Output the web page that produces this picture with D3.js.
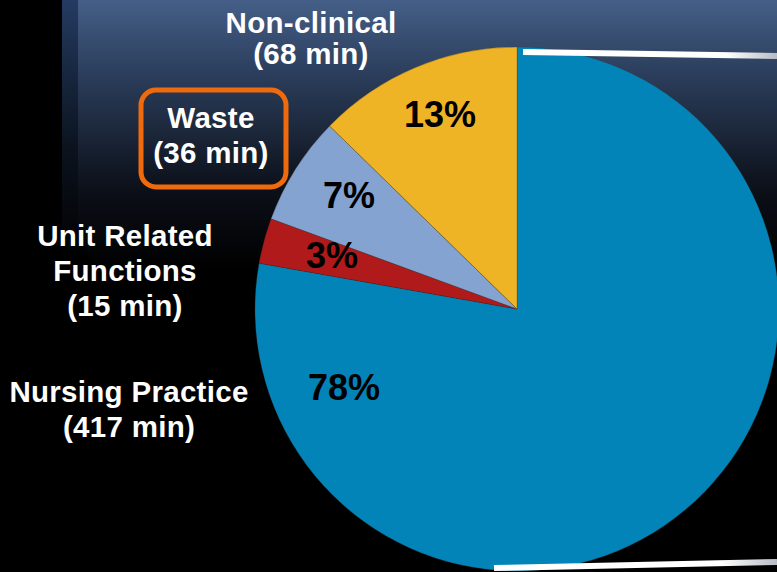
<!DOCTYPE html>
<html>
<head>
<meta charset="utf-8">
<script src="https://cdn.jsdelivr.net/npm/d3@7"></script>
<style>
  html, body { margin: 0; padding: 0; background: #000; }
  svg { display: block; }
  text { font-family: "Liberation Sans", Arial, sans-serif; font-weight: bold; }
</style>
</head>
<body>
<svg id="chart" width="777" height="572"></svg>
<script>
// ---- data ----
const categories = ["Nursing Practice", "Unit Related Functions", "Waste", "Non-clinical"];
const minutes = [417, 15, 36, 68];
const percentLabels = ["78%", "3%", "7%", "13%"];
const colors = ["#0284b8", "#b01a1a", "#84a3d1", "#efb426"];
const nameLines = [["Nursing Practice"], ["Unit Related", "Functions"], ["Waste"], ["Non-clinical"]];

const W = 777, H = 572;
const svg = d3.select("#chart");
const defs = svg.append("defs");

// background gradients
const g1 = defs.append("linearGradient").attr("id", "bgOuter").attr("x1", 0).attr("y1", 0).attr("x2", 0).attr("y2", 1);
g1.append("stop").attr("offset", "0%").attr("stop-color", "#243b61");
g1.append("stop").attr("offset", "55%").attr("stop-color", "#0c1420");
g1.append("stop").attr("offset", "100%").attr("stop-color", "#000");
const g2 = defs.append("linearGradient").attr("id", "bgInner").attr("x1", 0).attr("y1", 0).attr("x2", 0).attr("y2", 1);
g2.append("stop").attr("offset", "0%").attr("stop-color", "#52719f");
g2.append("stop").attr("offset", "35%").attr("stop-color", "#2d405f");
g2.append("stop").attr("offset", "75%").attr("stop-color", "#0b0f17");
g2.append("stop").attr("offset", "100%").attr("stop-color", "#000");
const lg = defs.append("linearGradient").attr("id", "lineGrad").attr("x1", 0).attr("y1", 0).attr("x2", 1).attr("y2", 0);
lg.append("stop").attr("offset", "0%").attr("stop-color", "#fff");
lg.append("stop").attr("offset", "80%").attr("stop-color", "#fff");
lg.append("stop").attr("offset", "100%").attr("stop-color", "#b8bcc4");

svg.append("rect").attr("x", 0).attr("y", 0).attr("width", W).attr("height", H).attr("fill", "#000");
svg.append("rect").attr("x", 62).attr("y", 0).attr("width", W - 62).attr("height", 260).attr("fill", "url(#bgOuter)");
svg.append("rect").attr("x", 78).attr("y", -40).attr("width", W - 78 + 40).attr("height", 310).attr("rx", 40).attr("fill", "url(#bgInner)");

// pie
const cx = 517, cy = 309, R = 262;
const pie = d3.pie().sort(null).value(d => d)(minutes);
const arc = d3.arc().innerRadius(0).outerRadius(R);
const pg = svg.append("g").attr("transform", `translate(${cx},${cy})`);
pg.selectAll("path").data(pie).join("path")
  .attr("d", arc)
  .attr("fill", (d, i) => colors[i])
  .attr("stroke", "rgba(60,50,30,0.45)")
  .attr("stroke-width", 0.6);

// callout lines
svg.append("line").attr("x1", 523).attr("y1", 52).attr("x2", 777).attr("y2", 56)
  .attr("stroke", "url(#lineGrad)").attr("stroke-width", 6);
svg.append("line").attr("x1", 494).attr("y1", 568).attr("x2", 777).attr("y2", 562)
  .attr("stroke", "url(#lineGrad)").attr("stroke-width", 6);

// percent labels (inside slices)
const pctPos = [[344, 400], [332, 268], [349, 208], [440, 127]];
svg.selectAll("text.pct").data(pie).join("text")
  .attr("class", "pct")
  .attr("x", (d, i) => pctPos[i][0])
  .attr("y", (d, i) => pctPos[i][1])
  .attr("text-anchor", "middle")
  .attr("font-size", 36)
  .attr("fill", "#000")
  .text((d, i) => percentLabels[i]);

// category labels
const namePos = [[129, 402], [125, 246], [211, 128], [311, 33]];
const lineH = 35;
categories.forEach((c, i) => {
  const lines = nameLines[i].concat([`(${minutes[i]} min)`]);
  const t = svg.append("text")
    .attr("x", namePos[i][0]).attr("y", namePos[i][1])
    .attr("text-anchor", "middle").attr("font-size", 29.5)
    .attr("letter-spacing", 0.3).attr("fill", "#fff");
  lines.forEach((l, k) => {
    t.append("tspan").attr("x", namePos[i][0]).attr("dy", k === 0 ? 0 : (i === 3 ? 31 : lineH)).text(l);
  });
});

// Waste highlight box
svg.append("rect").attr("x", 141).attr("y", 90).attr("width", 145).attr("height", 97)
  .attr("rx", 15).attr("fill", "none").attr("stroke", "#ee6a0c").attr("stroke-width", 5);
</script>
</body>
</html>
